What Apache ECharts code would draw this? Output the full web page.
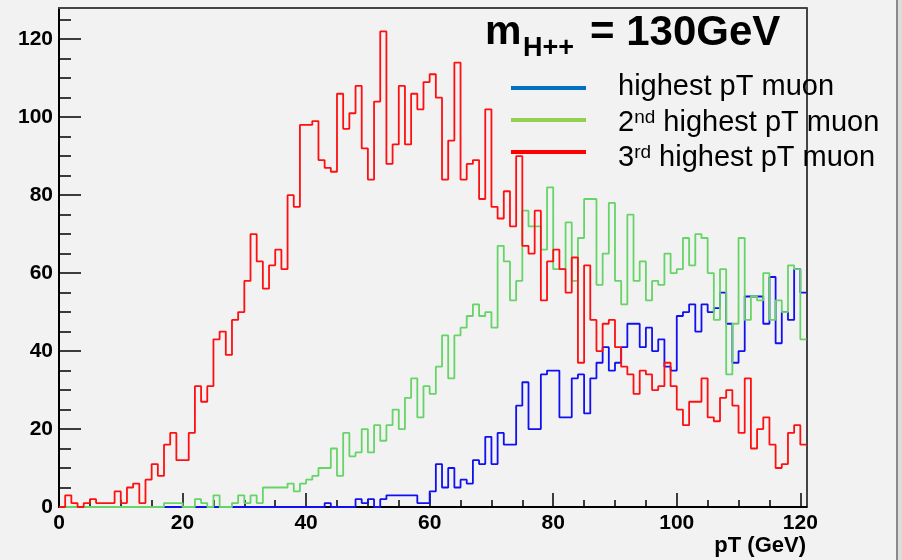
<!DOCTYPE html>
<html><head><meta charset="utf-8">
<script src="https://cdn.jsdelivr.net/npm/echarts@6/dist/echarts.min.js"></script>
<style>html,body{margin:0;padding:0;background:#f2f2f2;} #c{width:902px;height:560px;}</style>
</head><body><div id="c"></div>
<script>
// histogram: 121 bins of 1 GeV starting at 0
const binLow = 0;
const binWidth = 1;
const highestPt = [
  0,0,0,0,0,0,0,0,0,0,
  0,0,0,0,0,0,0,0,0,0,
  0,0,0,0,0,0,0,0,0,0,
  0,0,0,0,0,0,0,0,0,0,
  0,0,0,1,0,0,0,0,2,1,
  2,0,2,3,3,3,3,3,1,1,
  4,11,5,10,5,7,6,12,11,18,
  11,19,16,16,26,32,20,20,34,35,
  35,23,23,33,34,24,33,37,41,35,
  37,41,47,47,41,46,40,43,36,35,
  49,50,52,45,52,50,51,55,47,37,
  40,54,54,54,47,59,42,50,48,61,55
];
const secondPt = [
  0,0,0,0,0,0,0,0,0,0,
  0,0,0,0,0,0,0,1,1,1,
  0,0,2,1,0,3,0,0,1,3,
  1,3,1,5,5,5,5,6,4,6,
  7,8,10,10,15,8,19,13,14,20,
  14,21,17,21,25,20,28,33,23,31,
  29,36,44,33,44,46,49,52,49,50,
  46,67,63,53,58,76,72,72,66,82,
  61,61,73,58,69,79,79,57,65,78,
  58,52,75,58,63,53,58,57,65,60,
  61,69,62,70,69,60,48,61,34,47,
  69,48,54,53,60,48,53,50,62,61,43
];
const thirdPt = [
  0,3,1,0,1,2,1,1,1,4,
  1,5,6,1,7,11,8,16,19,12,
  12,19,31,27,31,43,45,39,48,50,
  58,70,63,56,62,66,61,80,77,98,
  98,99,89,87,86,106,97,101,108,92,
  84,104,122,88,93,108,93,106,102,109,
  111,105,84,94,114,84,88,89,79,102,
  77,74,81,72,90,67,65,76,53,63,
  66,61,55,64,37,62,48,40,47,48,
  41,36,34,29,35,34,30,31,37,31,
  25,21,27,27,33,23,22,28,30,26,
  19,33,15,20,23,16,10,11,19,21,16
];
const xTicks = [0,20,40,60,80,100,120];
const xMinorTicks = [5,10,15,25,30,35,45,50,55,65,70,75,85,90,95,105,110,115];
const yTicks = [0,20,40,60,80,100,120];
const yMinorTicks = [5,10,15,25,30,35,45,50,55,65,70,75,85,90,95,105,110,115,125];
const seriesNames = ['highest pT muon','2nd highest pT muon','3rd highest pT muon'];

function steps(vals){
  const d = vals.map((v,i)=>[binLow + i*binWidth, v]);
  d.push([binLow + vals.length*binWidth, vals[vals.length-1]]);
  return d;
}
const FONT = '"Liberation Sans", Arial, Helvetica, sans-serif';
const chart = echarts.init(document.getElementById('c'), null, {renderer:'canvas'});
const xMax = binLow + highestPt.length*binWidth;
const yMax = 128;
chart.setOption({
  animation:false,
  backgroundColor:'#f2f2f2',
  grid:{left:59, right:95.5, top:8, bottom:53, containLabel:false},
  xAxis:[
    {type:'value', min:0, max:xMax, position:'bottom',
     axisLine:{onZero:false, lineStyle:{color:'#000', width:2}},
     axisTick:{inside:true, length:14, customValues:xTicks, lineStyle:{color:'#000', width:1.5}},
     axisLabel:{customValues:xTicks, fontSize:21, fontWeight:'bold', color:'#000', margin:6, fontFamily:FONT},
     splitLine:{show:false}},
    {type:'value', min:0, max:xMax, position:'bottom',
     axisLine:{show:false, onZero:false},
     axisTick:{inside:true, length:7, customValues:xMinorTicks, lineStyle:{color:'#000', width:1.5}},
     axisLabel:{show:false}, splitLine:{show:false}},
    {type:'value', min:0, max:xMax, position:'top',
     axisLine:{show:true, onZero:false, lineStyle:{color:'#444', width:2}}, axisTick:{show:false}, axisLabel:{show:false}, splitLine:{show:false}}
  ],
  yAxis:[
    {type:'value', min:0, max:yMax, position:'left',
     axisLine:{show:true, onZero:false, lineStyle:{color:'#000', width:2}},
     axisTick:{show:true, inside:true, length:22, customValues:yTicks, lineStyle:{color:'#000', width:1.5}},
     axisLabel:{customValues:yTicks, fontSize:21, fontWeight:'bold', color:'#000', margin:6, fontFamily:FONT},
     splitLine:{show:false}},
    {type:'value', min:0, max:yMax, position:'left',
     axisLine:{show:false, onZero:false},
     axisTick:{show:true, inside:true, length:12, customValues:yMinorTicks, lineStyle:{color:'#000', width:1.5}},
     axisLabel:{show:false}, splitLine:{show:false}},
    {type:'value', min:0, max:yMax, position:'right',
     axisLine:{show:true, onZero:false, lineStyle:{color:'#444', width:2}}, axisTick:{show:false}, axisLabel:{show:false}, splitLine:{show:false}}
  ],
  series:[
    {name:seriesNames[0], type:'line', step:'end', showSymbol:false, data:steps(highestPt),
     lineStyle:{color:'#1010f0', width:1.8}, z:3},
    {name:seriesNames[1], type:'line', step:'end', showSymbol:false, data:steps(secondPt),
     lineStyle:{color:'#66d466', width:1.8}, z:4},
    {name:seriesNames[2], type:'line', step:'end', showSymbol:false, data:steps(thirdPt),
     lineStyle:{color:'#ff1010', width:1.8}, z:5}
  ],
  graphic:[
    {type:'text', x:485, y:33, z:100, style:{text:'m', font:'bold 41px '+FONT, fill:'#000', verticalAlign:'middle', align:'left'}},
    {type:'text', x:523, y:49, z:100, style:{text:'H++', font:'bold 27px '+FONT, fill:'#000', verticalAlign:'middle', align:'left'}},
    {type:'text', x:590, y:33, z:100, style:{text:'= 130GeV', font:'bold 42px '+FONT, fill:'#000', verticalAlign:'middle', align:'left'}},
    {type:'line', z:100, shape:{x1:511, y1:88, x2:586, y2:88}, style:{stroke:'#0070c0', lineWidth:4}},
    {type:'line', z:100, shape:{x1:511, y1:120, x2:586, y2:120}, style:{stroke:'#92d050', lineWidth:4}},
    {type:'line', z:100, shape:{x1:511, y1:152, x2:586, y2:152}, style:{stroke:'#ff0000', lineWidth:4}},
    {type:'text', x:618, y:87, z:100, style:{text:'highest pT muon', font:'29px '+FONT, fill:'#000', verticalAlign:'middle', align:'left'}},
    {type:'text', x:618, y:123, z:100, style:{text:'{n|2}{s|nd}{n| highest pT muon}', verticalAlign:'middle', align:'left',
      rich:{n:{fontSize:29, fontFamily:FONT, fill:'#000', lineHeight:29}, s:{fontSize:19, fontFamily:FONT, fill:'#000', lineHeight:19, verticalAlign:'top'}}}},
    {type:'text', x:618, y:158, z:100, style:{text:'{n|3}{s|rd}{n| highest pT muon}', verticalAlign:'middle', align:'left',
      rich:{n:{fontSize:29, fontFamily:FONT, fill:'#000', lineHeight:29}, s:{fontSize:19, fontFamily:FONT, fill:'#000', lineHeight:19, verticalAlign:'top'}}}},
    {type:'text', x:806, y:546, z:100, style:{text:'pT (GeV)', font:'bold 22px '+FONT, fill:'#000', verticalAlign:'middle', align:'right'}},
    {type:'rect', z:100, shape:{x:896, y:0, width:2, height:560}, style:{fill:'#8a8a8a'}},
    {type:'rect', z:100, shape:{x:898, y:0, width:4, height:560}, style:{fill:'#dcdcdc'}}
  ]
});
</script></body></html>
